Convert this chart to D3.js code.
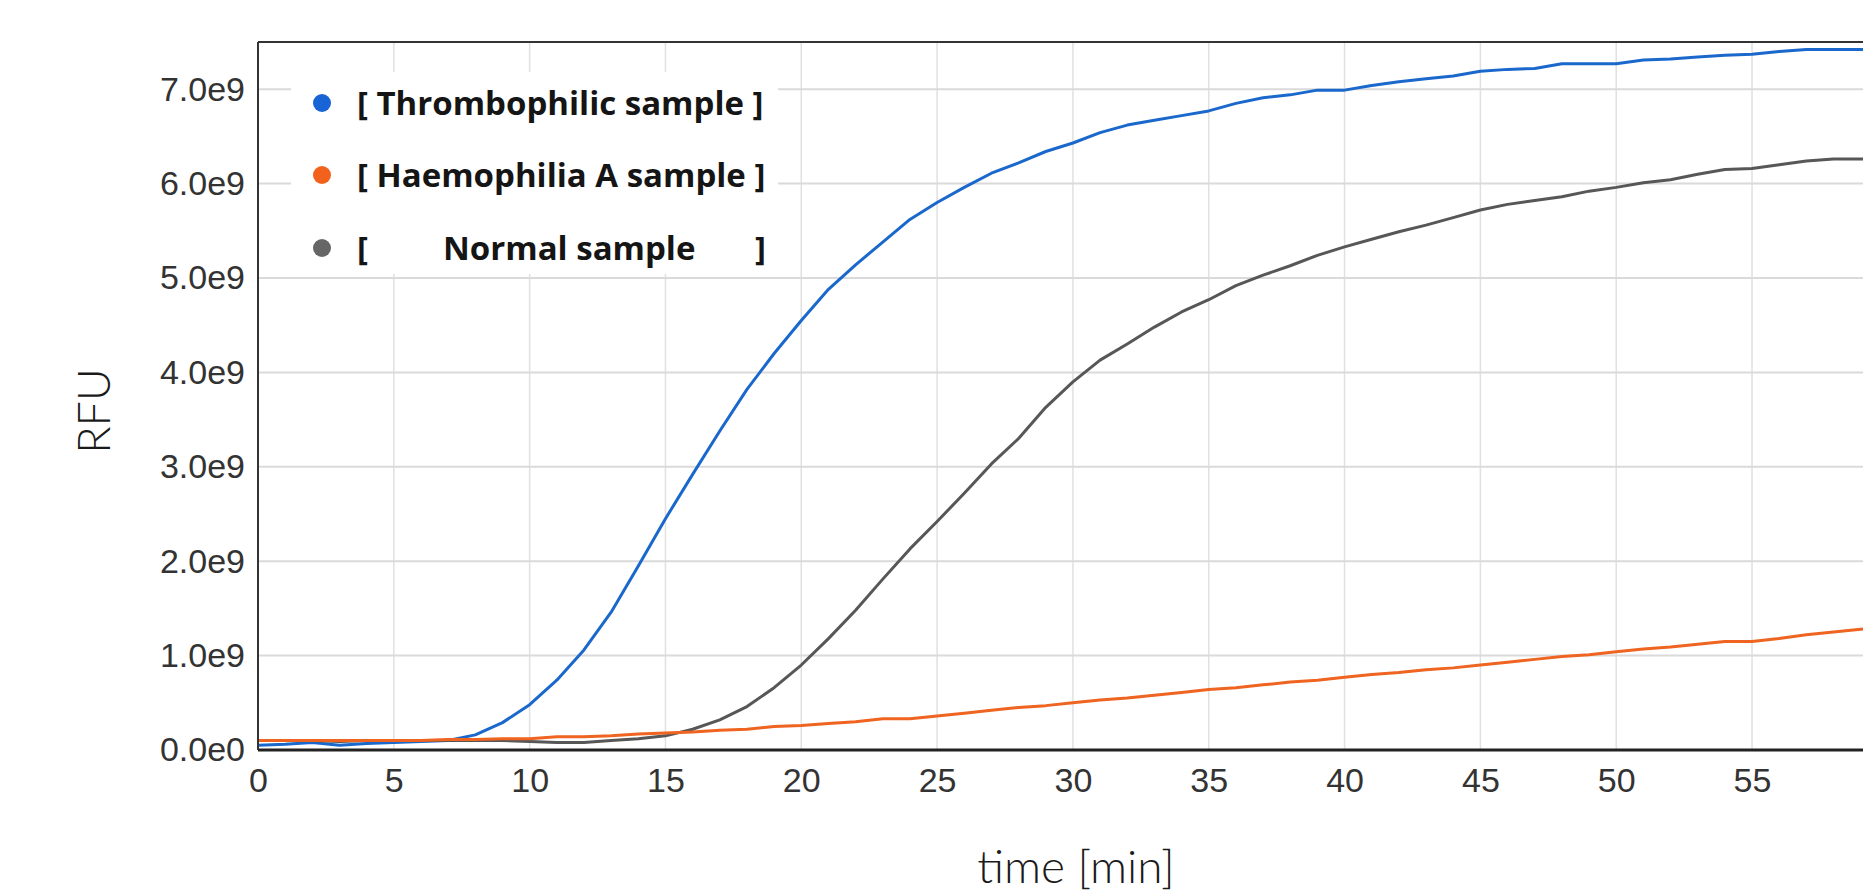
<!DOCTYPE html>
<html>
<head>
<meta charset="utf-8">
<script src="https://cdn.jsdelivr.net/npm/d3@7"></script>
<style>
  body { margin: 0; background: #fff; }
</style>
</head>
<body>
<div id="chart"></div>
<script>
// time in minutes, one reading per minute
const minutes = [0,1,2,3,4,5,6,7,8,9,10,11,12,13,14,15,16,17,18,19,20,21,22,23,24,25,26,27,28,29,30,
  31,32,33,34,35,36,37,38,39,40,41,42,43,44,45,46,47,48,49,50,51,52,53,54,55,56,57,58,59,60];

// RFU values, in units of 1e9
const thrombophilic = [0.05,0.06,0.08,0.05,0.07,0.08,0.09,0.10,0.16,0.29,0.48,0.74,1.06,1.46,1.95,2.45,2.92,3.38,3.82,4.20,
  4.55,4.88,5.14,5.38,5.62,5.80,5.96,6.11,6.22,6.34,6.43,6.54,6.62,6.67,6.72,6.77,6.85,6.91,6.94,6.99,
  6.99,7.04,7.08,7.11,7.14,7.19,7.21,7.22,7.27,7.27,7.27,7.31,7.32,7.34,7.36,7.37,7.40,7.42,7.42,7.42,7.43];
const haemophilia = [0.10,0.10,0.10,0.10,0.10,0.10,0.10,0.11,0.11,0.12,0.12,0.14,0.14,0.15,0.17,0.18,0.19,0.21,0.22,0.25,
  0.26,0.28,0.30,0.33,0.33,0.36,0.39,0.42,0.45,0.47,0.50,0.53,0.55,0.58,0.61,0.64,0.66,0.69,0.72,0.74,
  0.77,0.80,0.82,0.85,0.87,0.90,0.93,0.96,0.99,1.01,1.04,1.07,1.09,1.12,1.15,1.15,1.18,1.22,1.25,1.28,1.30];
const normal = [0.10,0.10,0.10,0.09,0.10,0.10,0.10,0.10,0.10,0.10,0.09,0.08,0.08,0.10,0.12,0.15,0.22,0.32,0.46,0.66,
  0.90,1.18,1.48,1.81,2.13,2.42,2.72,3.03,3.30,3.63,3.90,4.13,4.30,4.48,4.64,4.77,4.92,5.03,5.13,5.24,
  5.33,5.41,5.49,5.56,5.64,5.72,5.78,5.82,5.86,5.92,5.96,6.01,6.04,6.10,6.15,6.16,6.20,6.24,6.26,6.26,6.27];

const xTicks = [0,5,10,15,20,25,30,35,40,45,50,55,60];
const yTicks = [0,1,2,3,4,5,6,7];
const yTickLabels = ["0.0e0","1.0e9","2.0e9","3.0e9","4.0e9","5.0e9","6.0e9","7.0e9"];

const series = [
  {name: "Thrombophilic sample", values: thrombophilic, color: "#1a68cc"},
  {name: "Normal sample", values: normal, color: "#575757"},
  {name: "Haemophilia A sample", values: haemophilia, color: "#ee6420"}
];

const width = 1863, height = 892;
const plotLeft = 258, plotTop = 42, plotBottom = 750, plotRight = 1915;

const x = d3.scaleLinear().domain([0, 61]).range([plotLeft, plotRight]);
const y = d3.scaleLinear().domain([0, 7.5]).range([plotBottom, plotTop]);

const svg = d3.select('#chart').append('svg')
    .attr('width', width)
    .attr('height', height)
    .style('display', 'block');

svg.append('clipPath').attr('id', 'plot-clip')
  .append('rect').attr('x', plotLeft).attr('y', plotTop)
  .attr('width', plotRight - plotLeft).attr('height', plotBottom - plotTop);

// grid
svg.append('g')
  .selectAll('line').data(xTicks.filter(d => d > 0))
  .join('line')
    .attr('x1', d => x(d)).attr('x2', d => x(d))
    .attr('y1', plotTop).attr('y2', plotBottom)
    .attr('stroke', '#e0e0e0').attr('stroke-width', 1.5);

svg.append('g')
  .selectAll('line').data(yTicks.filter(d => d > 0))
  .join('line')
    .attr('x1', plotLeft).attr('x2', plotRight)
    .attr('y1', d => y(d)).attr('y2', d => y(d))
    .attr('stroke', '#dadada').attr('stroke-width', 2);

// legend box hides the grid behind it
svg.append('rect')
  .attr('x', 291).attr('y', 72).attr('width', 487).attr('height', 202)
  .attr('fill', '#fff');

// lines
const line = d3.line()
  .x((d, i) => x(minutes[i]))
  .y(d => y(d));

svg.append('g').attr('clip-path', 'url(#plot-clip)')
  .selectAll('path').data(series)
  .join('path')
    .attr('d', d => line(d.values))
    .attr('fill', 'none')
    .attr('stroke', d => d.color)
    .attr('stroke-width', 3)
    .attr('stroke-linejoin', 'round');

// frame
svg.append('line').attr('x1', plotLeft).attr('x2', plotRight).attr('y1', plotTop).attr('y2', plotTop)
  .attr('stroke', '#333').attr('stroke-width', 2);
svg.append('line').attr('x1', plotLeft).attr('x2', plotLeft).attr('y1', plotTop).attr('y2', plotBottom)
  .attr('stroke', '#333').attr('stroke-width', 2);
svg.append('line').attr('x1', plotLeft).attr('x2', plotRight).attr('y1', plotBottom).attr('y2', plotBottom)
  .attr('stroke', '#222').attr('stroke-width', 3);

// axes (labels only)
const xAxis = d3.axisBottom(x).tickValues(xTicks).tickSize(0).tickPadding(13);
svg.append('g')
  .attr('transform', `translate(0,${plotBottom})`)
  .call(xAxis)
  .call(g => g.select('.domain').remove())
  .selectAll('text')
    .attr('dy', '0.85em')
    .style('font-family', '"Liberation Sans", Arial, sans-serif')
    .style('font-size', '34px')
    .attr('fill', '#333');

const yAxis = d3.axisLeft(y).tickValues(yTicks).tickFormat((d, i) => yTickLabels[i]).tickSize(0).tickPadding(13);
svg.append('g')
  .attr('transform', `translate(${plotLeft},0)`)
  .call(yAxis)
  .call(g => g.select('.domain').remove())
  .selectAll('text')
    .style('font-family', '"Liberation Sans", Arial, sans-serif')
    .style('font-size', '34px')
    .attr('fill', '#333');

// axis titles
svg.append('text')
  .attr('transform', 'translate(110,411) rotate(-90)')
  .attr('text-anchor', 'middle')
  .style('font-family', 'Lato, sans-serif')
  .style('font-size', '45px')
  .style('font-weight', 300)
  .attr('fill', '#1a1a1a')
  .text('RFU');

svg.append('text')
  .attr('x', 1076).attr('y', 883)
  .attr('text-anchor', 'middle')
  .style('font-family', 'Lato, sans-serif')
  .style('font-size', '46px')
  .style('font-weight', 300)
  .attr('fill', '#1a1a1a')
  .text('time [min]');

// legend
const legendItems = [
  {label: "Thrombophilic sample", color: "#1863d6", cy: 103, padded: false},
  {label: "Haemophilia A sample", color: "#f2621c", cy: 175, padded: false},
  {label: "Normal sample", color: "#666666", cy: 248, padded: true}
];

const legend = svg.append('g')
  .style('font-family', '"Open Sans", sans-serif')
  .style('font-weight', 700)
  .style('font-size', '33px')
  .attr('fill', '#151515');

legendItems.forEach(item => {
  legend.append('circle')
    .attr('cx', 322).attr('cy', item.cy).attr('r', 9)
    .attr('fill', item.color);
  if (item.padded) {
    legend.append('text').attr('x', 357).attr('y', item.cy + 12).text('[');
    legend.append('text').attr('x', 443).attr('y', item.cy + 12).text(item.label);
    legend.append('text').attr('x', 766).attr('y', item.cy + 12).attr('text-anchor', 'end').text(']');
  } else {
    legend.append('text').attr('x', 357).attr('y', item.cy + 12).text(`[ ${item.label} ]`);
  }
});
</script>
</body>
</html>
